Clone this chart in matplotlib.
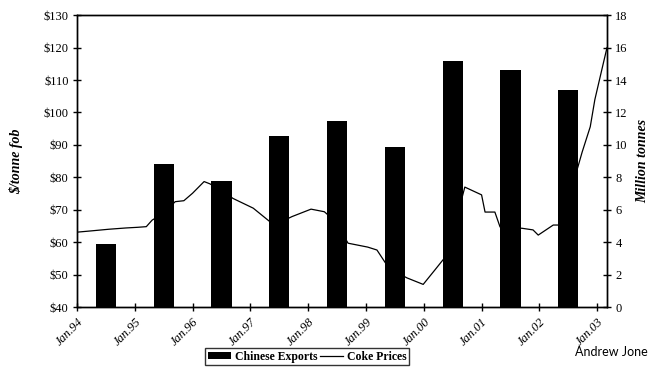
import matplotlib.pyplot as plt
from matplotlib.ticker import FuncFormatter

# Chinese coke exports (million tonnes), one bar per year
bar_years = [1994, 1995, 1996, 1997, 1998, 1999, 2000, 2001, 2002]
exports = [3.9, 8.8, 7.8, 10.55, 11.5, 9.9, 15.15, 14.6, 13.4]

# Coke price ($/tonne fob) at decimal-year dates
price_dates = [1994.00, 1994.25, 1994.55, 1994.85, 1995.05, 1995.20, 1995.30,
               1995.50, 1995.70, 1995.85, 1996.00, 1996.20, 1996.30, 1996.50,
               1996.70, 1997.05, 1997.34, 1997.50, 1997.72, 1998.05, 1998.28,
               1998.37, 1998.55, 1998.69, 1999.03, 1999.19, 1999.36, 1999.55,
               1999.71, 1999.99, 2000.19, 2000.37, 2000.55, 2000.71, 2001.00,
               2001.06, 2001.23, 2001.32, 2001.50, 2001.70, 2001.89, 2001.98,
               2002.24, 2002.36, 2002.55, 2002.74, 2002.88, 2002.96, 2003.10,
               2003.17]
prices = [63.1, 63.5, 64.0, 64.4, 64.6, 64.8, 66.8,
          69.0, 72.5, 72.8, 75.1, 78.7, 78.0, 76.0,
          73.5, 70.5, 66.3, 66.0, 67.9, 70.2, 69.4,
          68.0, 64.0, 59.7, 58.5, 57.6, 53.0, 50.5,
          49.0, 47.0, 51.4, 55.4, 66.0, 77.0, 74.6,
          69.3, 69.3, 64.7, 64.5, 64.3, 63.8, 62.2,
          65.3, 65.3, 76.0, 87.8, 95.6, 104.0, 114.7,
          120.0]

tick_years = list(range(1994, 2004))
tick_labels = ['Jan.%02d' % (y % 100) for y in tick_years]

serif = 'Liberation Serif'

fig = plt.figure(figsize=(6.52, 3.70), dpi=100)
ax = fig.add_axes([0.118, 0.170, 0.813, 0.789])
ax2 = ax.twinx()

# line on the left axis, bars on the right axis drawn over it
ax.plot(price_dates, prices, color='black', lw=0.9, label='Coke Prices', zorder=1)
ax2.bar([y + 0.5 for y in bar_years], exports, width=0.35, color='black',
        label='Chinese Exports', zorder=2)
ax.set_zorder(1)
ax.patch.set_visible(False)
ax2.set_zorder(2)
ax2.patch.set_visible(False)

ax.set_xlim(1994.0, 2003.17)
ax.set_ylim(40, 130)
ax2.set_ylim(0, 18)
ax.set_yticks(range(40, 131, 10))
ax.yaxis.set_major_formatter(FuncFormatter(lambda v, p: '$%d' % v))
ax2.set_yticks(range(0, 19, 2))
ax.set_xticks(tick_years)
ax.set_xticklabels(tick_labels, rotation=45, ha='right', rotation_mode='anchor',
                   fontsize=5.5, family=serif, style='italic')

for a in (ax, ax2):
    a.tick_params(direction='inout', length=6, width=1, labelsize=9, pad=3)
    for lbl in a.get_yticklabels():
        lbl.set_family(serif)
    for s in a.spines.values():
        s.set_linewidth(1)
ax.tick_params(axis='x', pad=3)

ax.set_ylabel('$/tonne fob', family=serif, fontsize=10, fontweight='bold',
              style='italic', labelpad=15)
ax2.set_ylabel('Million tonnes', family=serif, fontsize=10, fontweight='bold',
               style='italic', labelpad=6)

h2, l2 = ax2.get_legend_handles_labels()
h1, l1 = ax.get_legend_handles_labels()
leg = fig.legend(h2 + h1, l2 + l1, loc='center', bbox_to_anchor=(0.471, 0.036),
                 ncol=2, frameon=True, fancybox=False, edgecolor='black',
                 prop={'family': serif, 'weight': 'bold', 'size': 8.5},
                 handlelength=2.0, handleheight=0.5, columnspacing=0.2,
                 handletextpad=0.3, borderpad=0.2, borderaxespad=0)
leg.get_frame().set_linewidth(1)

fig.text(0.882, 0.048, 'Andrew Jone', fontsize=9, family='Lato', va='center')

fig.savefig('out.png', dpi=100)
